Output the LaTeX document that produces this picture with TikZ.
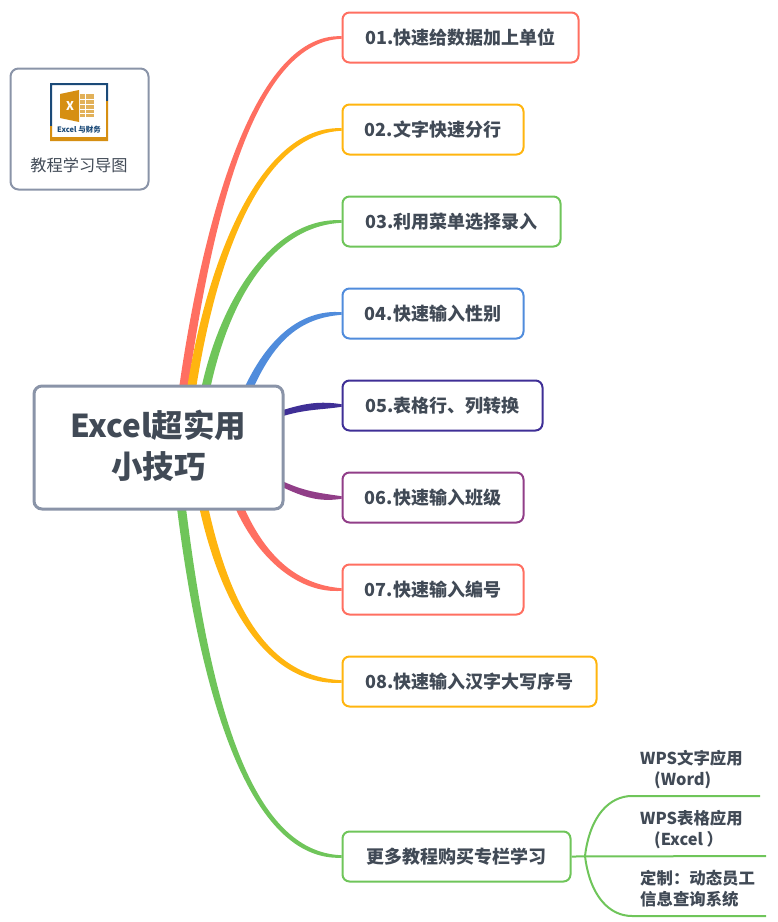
\documentclass[tikz,border=0pt]{standalone}
\usepackage{fontspec}
\usepackage{xcolor}
\setmainfont{Noto Sans CJK SC}
\usetikzlibrary{calc,backgrounds}
\definecolor{inkc}{HTML}{414A56}
\definecolor{greyc}{HTML}{8A94A8}
\definecolor{redc}{HTML}{FF6F61}
\definecolor{yellowc}{HTML}{FFB50F}
\definecolor{greenc}{HTML}{6FC55A}
\definecolor{bluec}{HTML}{508CDC}
\definecolor{navyc}{HTML}{3F2F96}
\definecolor{purplec}{HTML}{913E88}
\definecolor{logoblue}{HTML}{1B4A78}
\definecolor{logogold}{HTML}{D68F12}
\tikzset{
  topicbox/.style={draw=#1,line width=2pt,rounded corners=7pt,fill=white,text=inkc,
    font=\bfseries\fontsize{18}{22}\selectfont,anchor=west,minimum height=50pt,inner sep=0pt},
  subtext/.style={text=inkc,font=\bfseries\fontsize{16.4}{21}\selectfont,align=left,anchor=north west,inner sep=0pt},
  subline/.style={draw=greenc,line width=2pt}
}
% start, control 1, control 2, target, start offset, end half width
\newcommand{\branch}[7]{
  \fill[#1] ($(#2)+(#6)$) .. controls ($(#3)+(#6)$) and ($(#4)+(0,3.5*#7)$) .. ($(#5)+(0,#7)$)
    -- ($(#5)-(0,#7)$) .. controls ($(#4)-(0,3.5*#7)$) and ($(#3)-(#6)$) .. ($(#2)-(#6)$) -- cycle;
}
\begin{document}
\begin{tikzpicture}[x=1pt,y=-1pt]
\useasboundingbox (0,0) rectangle (778,922);
\node (guide) at (79.5,129) [draw=greyc,line width=2pt,rounded corners=8pt,fill=white,minimum width=138pt,minimum height=121pt] {};
\node (guidetext) at (79,165) [text=inkc,font=\fontsize{16.2}{18}\selectfont,inner sep=0pt] {教程学习导图};
% logo
\fill[white] (50,83) rectangle (108,141);
\fill[logoblue] (50,83) rectangle (108,85) (50,83) rectangle (52,126) (106,83) rectangle (108,101);
\fill[logogold] (50,137) rectangle (108,141) (50,126) rectangle (52,141) (106,101) rectangle (108,141);
\fill[logogold] (60,94) -- (79,90) -- (79,122) -- (60,118) -- cycle;
\fill[logogold!70] (80,94) rectangle (94,117);
\draw[white,line width=0.5pt] (80,99) -- (94,99) (80,104) -- (94,104) (80,109) -- (94,109) (80,113) -- (94,113) (85,94) -- (85,117);
\node (logox) at (70,106) [text=white,font=\bfseries\fontsize{12}{12}\selectfont,inner sep=0pt] {X};
\node (logotext) at (79,130) [text=logoblue,font=\bfseries\fontsize{7.5}{8}\selectfont,inner sep=0pt] {Excel 与财务};

\node (main) at (158.5,447.5) [draw=greyc,line width=3pt,rounded corners=8pt,fill=white,text=inkc,
  minimum width=249pt,minimum height=123pt,inner sep=0pt] {};
\node (maintext) at (158.5,446) [text=inkc,align=center,inner sep=0pt,
  font=\bfseries\fontsize{31.5}{41}\selectfont] {Excel超实用\\小技巧};
\node (t1) at (341.5,37.5) [topicbox=redc,minimum width=236pt] {01.快速给数据加上单位};
\node (t2) at (341.5,129.5) [topicbox=yellowc,minimum width=181pt] {02.文字快速分行};
\node (t3) at (341.5,221.5) [topicbox=greenc,minimum width=218pt] {03.利用菜单选择录入};
\node (t4) at (341.5,313.5) [topicbox=bluec,minimum width=181pt] {04.快速输入性别};
\node (t5) at (341.5,405.5) [topicbox=navyc,minimum width=200pt] {05.表格行、列转换};
\node (t6) at (341.5,497.5) [topicbox=purplec,minimum width=181pt] {06.快速输入班级};
\node (t7) at (341.5,589.5) [topicbox=redc,minimum width=181pt] {07.快速输入编号};
\node (t8) at (341.5,681.5) [topicbox=yellowc,minimum width=254pt] {08.快速输入汉字大写序号};
\node (t9) at (341.5,856.5) [topicbox=greenc,minimum width=228pt] {更多教程购买专栏学习};

\begin{scope}[on background layer]
\branch{redc}{183,392}{205,235}{250,37.5}{t1.west}{-4.5,0}{-1.3}
\branch{yellowc}{191,392}{212,255}{262,129.5}{t2.west}{-4.5,0}{-1.3}
\branch{greenc}{205,392}{225,295}{275,221.5}{t3.west}{-4.5,0}{-1.3}
\branch{bluec}{247,392}{270,340}{300,313.5}{t4.west}{-4.5,0}{-1.3}
\branch{navyc}{280,414}{305,406}{320,405.5}{t5.west}{0,-3}{-1.3}
\branch{purplec}{280,483}{305,495}{320,497.5}{t6.west}{0,3}{1.3}
\branch{redc}{238,504}{262,560}{300,589.5}{t7.west}{-4.5,0}{1.3}
\branch{yellowc}{203,504}{228,620}{275,681.5}{t8.west}{-4.5,0}{1.3}
\branch{greenc}{181,504}{205,700}{250,856.5}{t9.west}{-4.5,0}{1.3}
\end{scope}

\coordinate (hub) at (585,856);
\coordinate (end1) at (760,796);
\coordinate (end2) at (766,856);
\coordinate (end3) at (766,916);
\draw[subline] (t9.east) -- (end2);
\draw[subline] (hub) .. controls (590,815) and (610,796) .. (632,796) -- (end1);
\draw[subline] (hub) .. controls (590,897) and (610,916) .. (632,916) -- (end3);
\node (s1) at (640,750.5) [subtext] {WPS文字应用\\\hspace*{14pt}(Word)};
\node (s2) at (640,810.5) [subtext] {WPS表格应用\\\hspace*{14pt}(Excel ）};
\node (s3) at (640,870.5) [subtext] {定制：动态员工\\信息查询系统};
\end{tikzpicture}
\end{document}
